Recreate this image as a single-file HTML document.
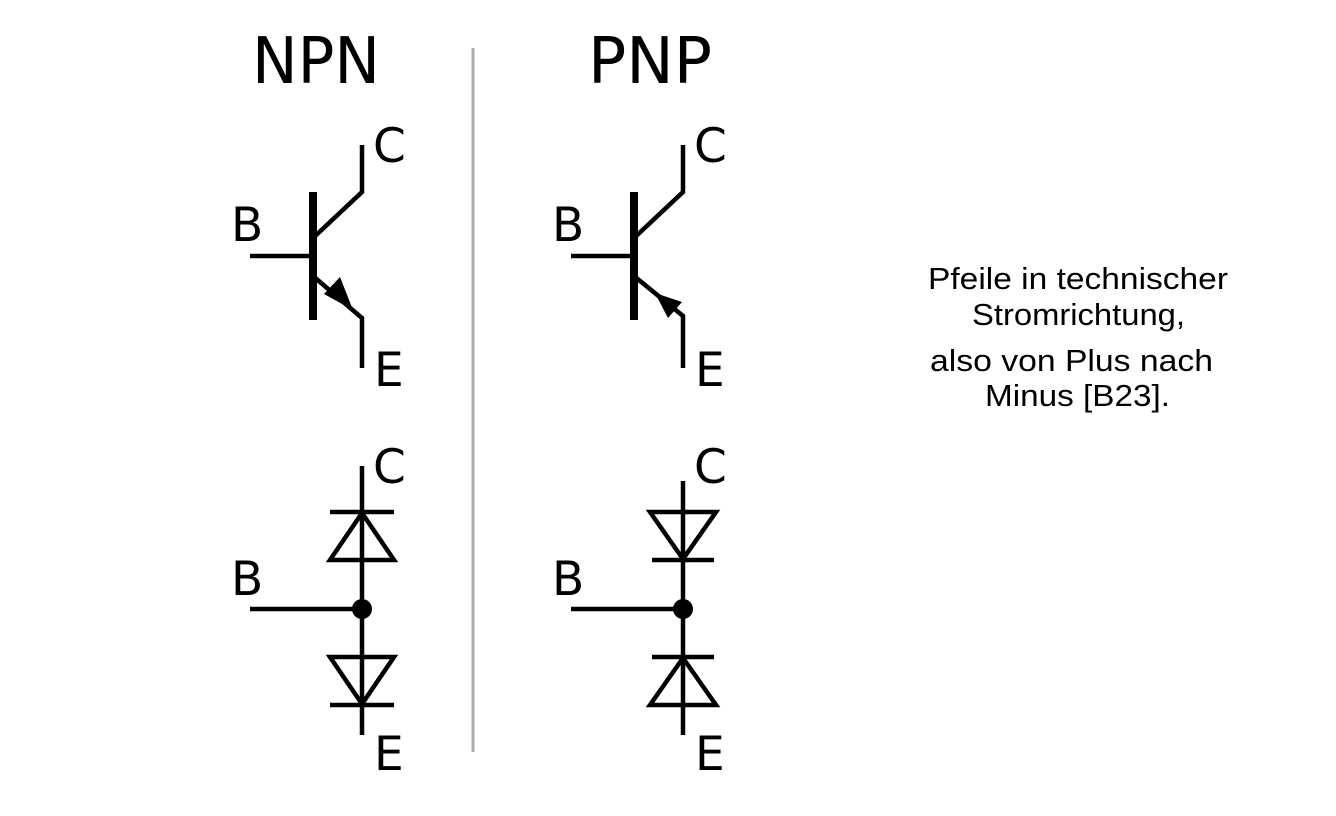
<!DOCTYPE html>
<html><head><meta charset="utf-8"><style>
html,body{margin:0;padding:0;background:#fff;width:1336px;height:816px;overflow:hidden}
svg{display:block}
.l{font-family:"DejaVu Sans",sans-serif;font-size:47px;fill:#000}
.t{font-family:"DejaVu Sans",sans-serif;font-size:64px;fill:#000}
.r{font-family:"Liberation Sans",Arial,sans-serif;font-size:31px;fill:#000}
</style></head><body>
<svg width="1336" height="816" viewBox="0 0 1336 816" xmlns="http://www.w3.org/2000/svg">
<text class="t" x="252" y="83" textLength="128" lengthAdjust="spacingAndGlyphs">NPN</text>
<text class="t" x="588" y="83" textLength="124" lengthAdjust="spacingAndGlyphs">PNP</text>
<line x1="473" y1="48" x2="473" y2="752" stroke="#aaa" stroke-width="3"/>
<g stroke="#000" stroke-width="4.5" fill="none">
<line x1="313" y1="192" x2="313" y2="320" stroke-width="8"/>
<line x1="250" y1="256" x2="313" y2="256"/>
<polyline points="313,238 362,192 362,145"/>
<polyline points="313,276 362,318 362,368"/>
<line x1="634" y1="192" x2="634" y2="320" stroke-width="8"/>
<line x1="571" y1="256" x2="634" y2="256"/>
<polyline points="634,238 683,192 683,145"/>
<polyline points="634,276 683,316 683,368"/>
<line x1="362" y1="466" x2="362" y2="735"/>
<line x1="330" y1="512" x2="394" y2="512"/>
<polygon points="362,513 330,560 394,560"/>
<line x1="250" y1="609" x2="362" y2="609"/>
<polygon points="330,657 394,657 362,704"/>
<line x1="330" y1="705" x2="394" y2="705"/>
<line x1="683" y1="481" x2="683" y2="735"/>
<polygon points="650,512 716,512 683,559"/>
<line x1="652" y1="560" x2="714" y2="560"/>
<line x1="571" y1="609" x2="683" y2="609"/>
<line x1="652" y1="657" x2="714" y2="657"/>
<polygon points="683,658 650,705 716,705"/>
</g>
<circle cx="362" cy="609" r="10"/>
<circle cx="683" cy="609" r="10"/>
<polygon points="353,310 324,294 340,277"/>
<polygon points="655,293 682,302 668,318"/>
<text class="l" x="373" y="162">C</text>
<text class="l" x="231" y="241">B</text>
<text class="l" x="374" y="386">E</text>
<text class="l" x="694" y="162">C</text>
<text class="l" x="552" y="241">B</text>
<text class="l" x="695" y="386">E</text>
<text class="l" x="373" y="483">C</text>
<text class="l" x="231" y="595">B</text>
<text class="l" x="374" y="770">E</text>
<text class="l" x="694" y="483">C</text>
<text class="l" x="552" y="595">B</text>
<text class="l" x="695" y="770">E</text>
<text class="r" x="928" y="289" textLength="300" lengthAdjust="spacingAndGlyphs">Pfeile in technischer</text>
<text class="r" x="972" y="325" textLength="213" lengthAdjust="spacingAndGlyphs">Stromrichtung,</text>
<text class="r" x="930" y="371" textLength="283" lengthAdjust="spacingAndGlyphs">also von Plus nach</text>
<text class="r" x="985" y="406" textLength="185" lengthAdjust="spacingAndGlyphs">Minus [B23].</text>
</svg>
</body></html>
